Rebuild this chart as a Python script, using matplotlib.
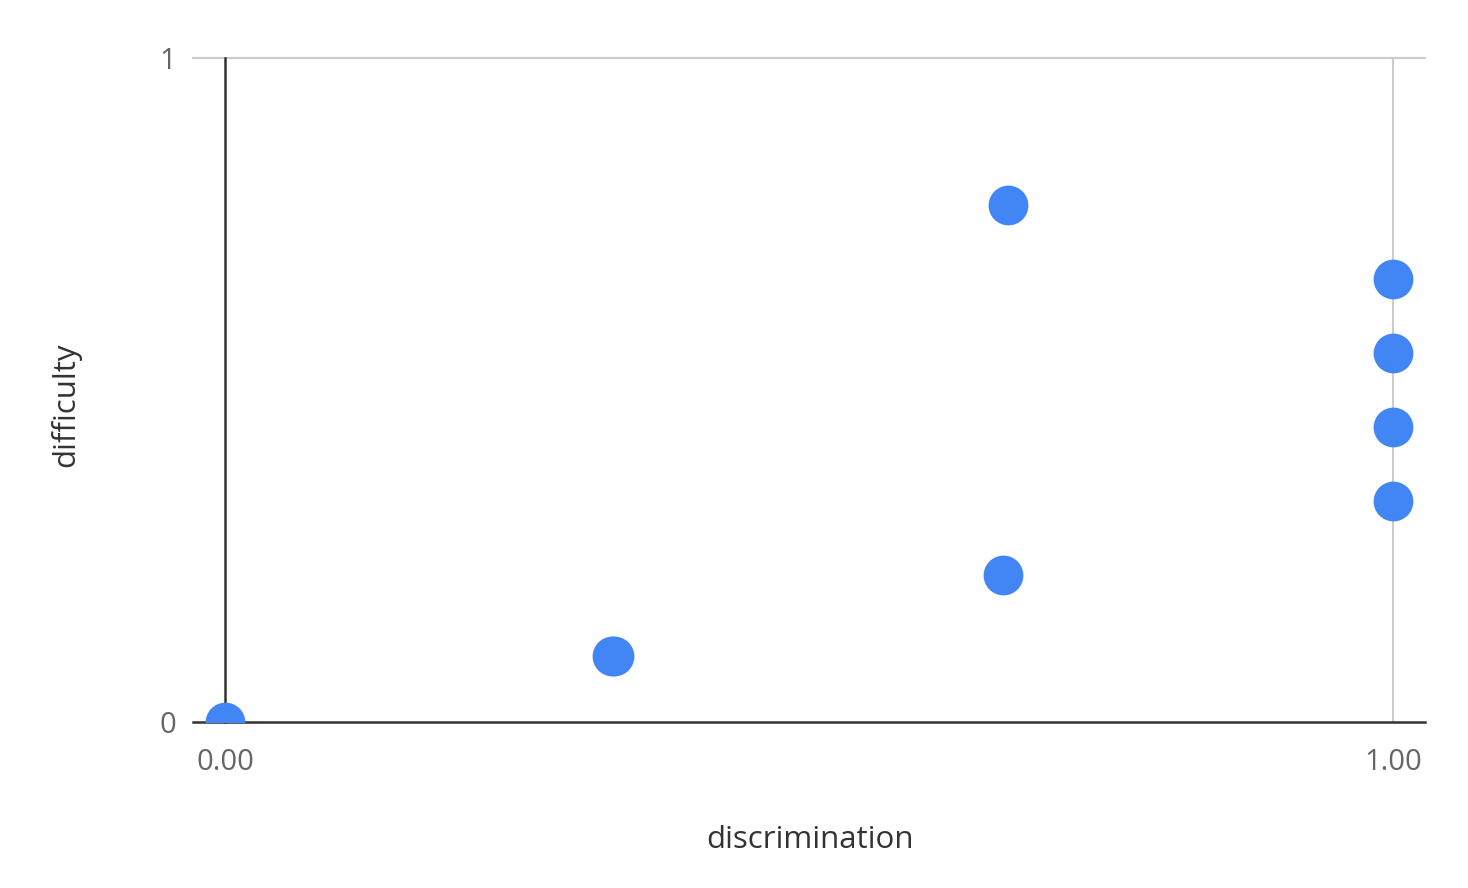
import matplotlib.pyplot as plt

discrimination = [0.0, 0.331, 0.333, 0.666, 0.670, 1.0, 1.0, 1.0, 1.0]
difficulty = [0.0, 0.100, 0.100, 0.222, 0.778, 0.667, 0.556, 0.444, 0.333]
x_ticks = [0.0, 1.0]
x_ticklabels = ['0.00', '1.00']
y_ticks = [0, 1]
y_ticklabels = ['0', '1']

plt.rcParams['font.family'] = ['Open Sans', 'DejaVu Sans']

fig = plt.figure(figsize=(14.68, 8.88), dpi=100)
ax = fig.add_axes([193 / 1468, 1 - 722 / 888, (1425 - 193) / 1468, (722 - 58) / 888])

ax.set_xlim(-32 / 1168, 1200 / 1168)
ax.set_ylim(0, 1)

# grid lines
ax.axhline(1, color='#cccccc', lw=1.5, zorder=1, clip_on=False)
ax.axvline(1, color='#cccccc', lw=1.5, zorder=1, clip_on=False)
# baselines
ax.axhline(0, color='#333333', lw=1.8, zorder=2, clip_on=False)
ax.axvline(0, color='#333333', lw=1.8, zorder=2, clip_on=False)

ax.scatter(discrimination, difficulty, s=820, color='#4285f4', linewidths=0, zorder=3)

for s in ax.spines.values():
    s.set_visible(False)

ax.set_xticks(x_ticks)
ax.set_xticklabels(x_ticklabels)
ax.set_yticks(y_ticks)
ax.set_yticklabels(y_ticklabels)
ax.tick_params(length=0, labelsize=21, colors='#666666')
ax.tick_params(axis='x', pad=19)
ax.tick_params(axis='y', pad=12)

fig.text(810 / 1468, 1 - 840 / 888, 'discrimination', ha='center', va='center', fontsize=22.5, color='#333333')
fig.text(66 / 1468, 1 - 405 / 888, 'difficulty', ha='center', va='center', rotation=90, fontsize=22.5, color='#333333')

fig.savefig('out.png', dpi=100, facecolor='white')
